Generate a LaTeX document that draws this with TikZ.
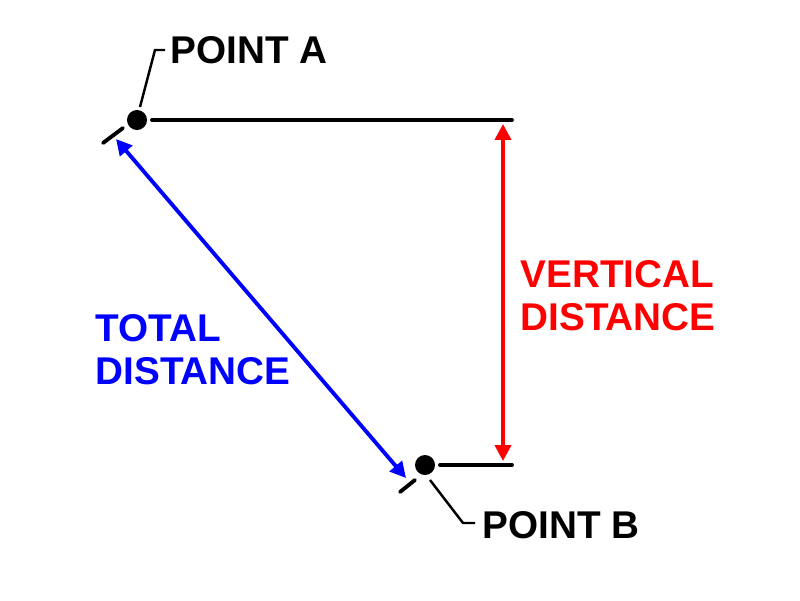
\documentclass[tikz,border=0pt]{standalone}
\usepackage{fontspec}
\setmainfont{Liberation Sans}
\usetikzlibrary{arrows.meta}
\tikzset{
  lbl/.style={font=\bfseries\fontsize{11}{12.3}\selectfont, align=left, anchor=west, inner sep=0pt},
  pt/.style={circle, fill, minimum size=0.2cm, inner sep=0pt},
  thin line/.style={line width=1.1pt, line cap=round},
  dim/.style={line width=1.1pt, {Triangle[length=4.5pt,width=4.5pt]}-{Triangle[length=4.5pt,width=4.5pt]}}
}
\begin{document}
\begin{tikzpicture}[x=0.01cm,y=-0.01cm]
\useasboundingbox (0,0) rectangle (800,600);
% points
\node[pt] (a) at (137,120) {};
\node[pt] (b) at (425,465) {};
\coordinate (aend) at (512,120);
\coordinate (bend) at (512,465);
\draw[thin line] (152,120) -- (aend);
\draw[thin line] (440,465) -- (bend);
% ticks
\draw[thin line] (103,143) -- (123,128);
\draw[thin line] (400,492) -- (415,480);
% dimensions
\draw[dim, red] (503,124) -- (503,461);
\draw[dim, blue] (116,139) -- (406,478);
% labels
\node[lbl] (la) at (170,50) {POINT A};
\node[lbl] (lb) at (482,525) {POINT B};
\draw[line width=0.7pt] (140,107) -- (155,50) -- (165,50);
\draw[line width=0.7pt] (430,480) -- (463,523) -- (475,523);
\node[lbl, red] (vd) at (520,296) {VERTICAL\\DISTANCE};
\node[lbl, blue] (td) at (95,350) {TOTAL\\DISTANCE};
\end{tikzpicture}
\end{document}
